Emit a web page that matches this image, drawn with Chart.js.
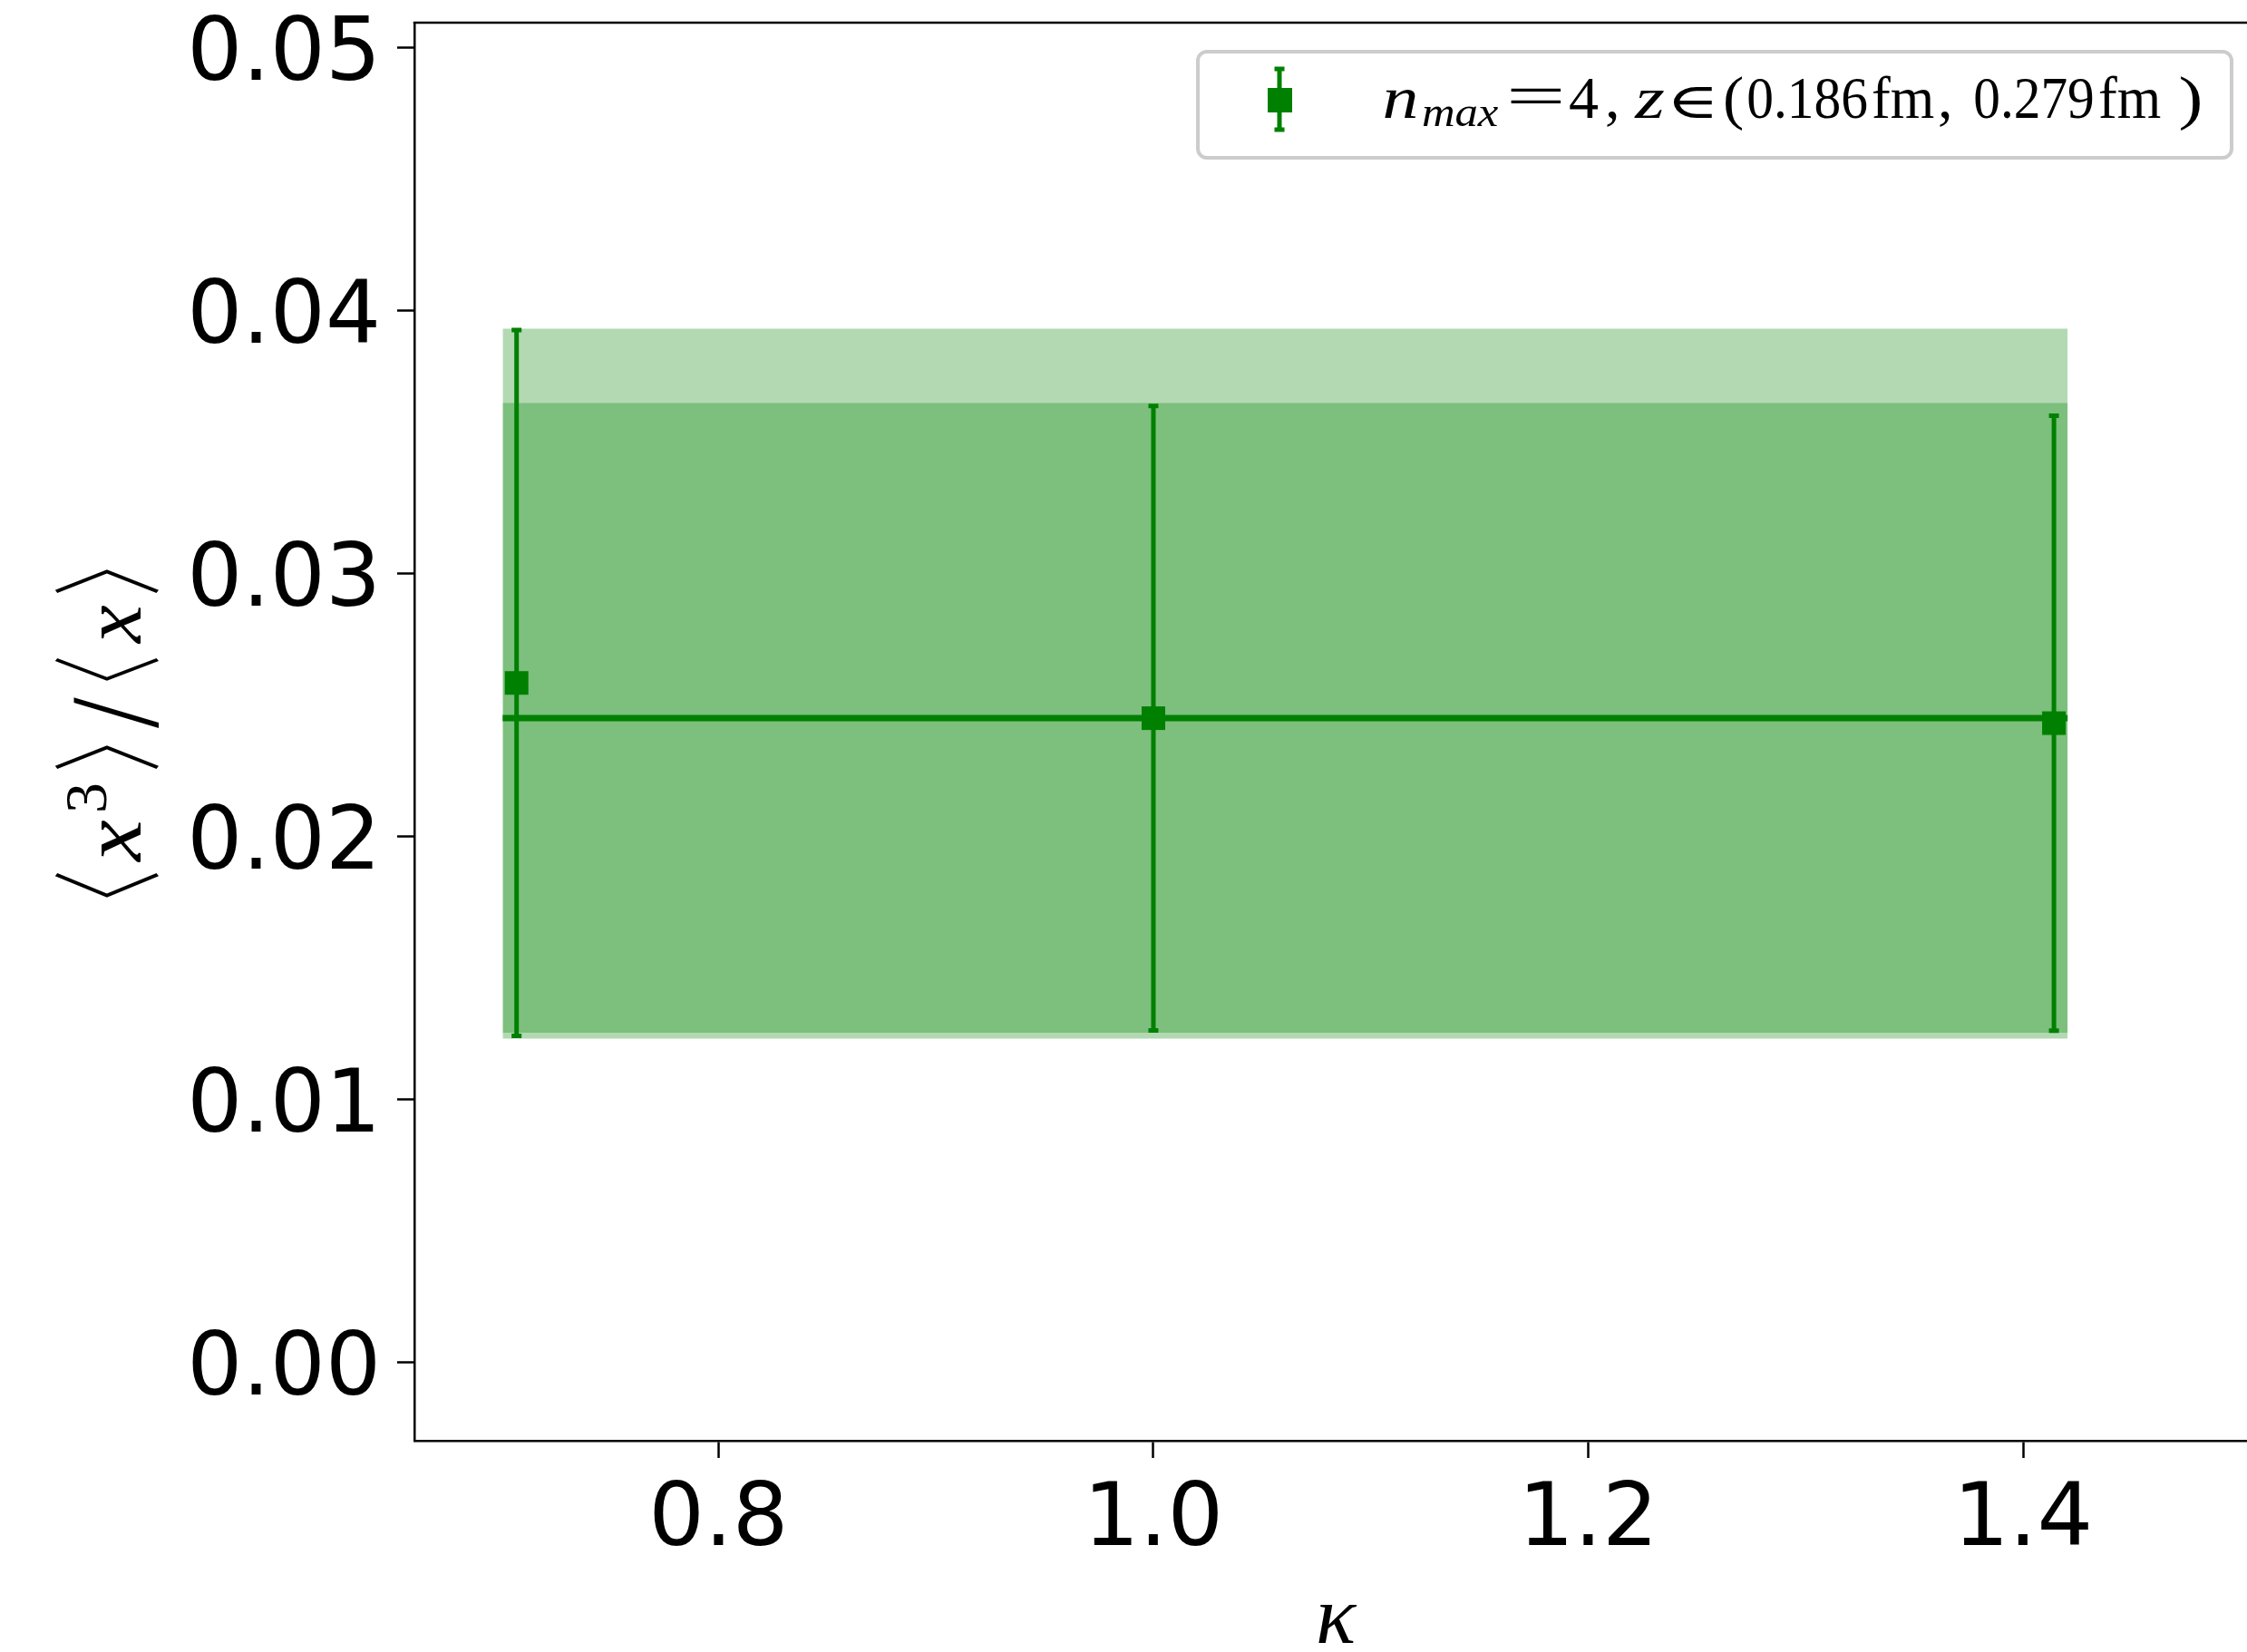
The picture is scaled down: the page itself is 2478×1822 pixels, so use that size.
<!DOCTYPE html>
<html><head><meta charset="utf-8">
<script src="https://cdn.jsdelivr.net/npm/chart.js@4.4.0/dist/chart.umd.min.js"></script>
<style>html,body{margin:0;padding:0;background:#fff;overflow:hidden}canvas{display:block}</style>
</head><body><canvas id="c" width="2478" height="1822" style="width:2478px;height:1822px"></canvas>
<script>
// ---- data ----
const kappa = [0.7071, 1.0, 1.4142];
const ratio = [0.02584, 0.02450, 0.02431];
const ratioErr = [0.01343, 0.01188, 0.01170];
const fitRange = [0.7007, 1.4205];
const fitValue = [0.02450, 0.02450];
const fitLow = [0.01253, 0.01253];
const fitHigh = [0.03649, 0.03649];
const envLow = [0.01231, 0.01231];
const envHigh = [0.03932, 0.03932];
const xTicks = [0.8, 1.0, 1.2, 1.4];
const xTickLabels = ['0.8', '1.0', '1.2', '1.4'];
const yTicks = [0.00, 0.01, 0.02, 0.03, 0.04, 0.05];
const yTickLabels = ['0.00', '0.01', '0.02', '0.03', '0.04', '0.05'];
const xLimits = [0.6601, 1.503];
const yLimits = [-0.00299, 0.05096];

const GREEN = '#008000';
const BAND = 'rgba(0,128,0,0.3)';
const pts = (xs, ys) => xs.map((x, i) => ({x, y: ys[i]}));

function fitGlyph(ctx, str, font, u0, u1, top, bottom) {
  ctx.save();
  ctx.font = font;
  ctx.textAlign = 'left';
  ctx.textBaseline = 'alphabetic';
  const m = ctx.measureText(str);
  const gl = -m.actualBoundingBoxLeft, gr = m.actualBoundingBoxRight;
  const asc = m.actualBoundingBoxAscent, desc = m.actualBoundingBoxDescent;
  const sx = (u1 - u0) / (gr - gl), sy = (bottom - top) / (asc + desc);
  ctx.translate(u0, top);
  ctx.scale(sx, sy);
  ctx.fillText(str, -gl, asc);
  ctx.restore();
}
// horizontal fit only, natural height, on a baseline
function fitWidth(ctx, str, font, x0, x1, base) {
  ctx.save();
  ctx.font = font;
  ctx.textAlign = 'left';
  ctx.textBaseline = 'alphabetic';
  const m = ctx.measureText(str);
  const gl = -m.actualBoundingBoxLeft, gr = m.actualBoundingBoxRight;
  const sx = x1 == null ? 1 : (x1 - x0) / (gr - gl);
  ctx.translate(x0, base);
  ctx.scale(sx, 1);
  ctx.fillText(str, -gl, 0);
  ctx.restore();
}

const decor = {
  id: 'decor',
  afterDatasetsDraw(chart) {
    const ctx = chart.ctx, xs = chart.scales.x, ys = chart.scales.y;
    ctx.save();
    ctx.strokeStyle = GREEN;
    ctx.lineWidth = 5;
    for (let i = 0; i < kappa.length; i++) {
      const x = xs.getPixelForValue(kappa[i]);
      const yt = ys.getPixelForValue(ratio[i] + ratioErr[i]);
      const yb = ys.getPixelForValue(ratio[i] - ratioErr[i]);
      ctx.beginPath();
      ctx.moveTo(x, yt); ctx.lineTo(x, yb);
      ctx.moveTo(x - 5.5, yt); ctx.lineTo(x + 5.5, yt);
      ctx.moveTo(x - 5.5, yb); ctx.lineTo(x + 5.5, yb);
      ctx.stroke();
    }
    ctx.restore();
  },
  afterDraw(chart) {
    const ctx = chart.ctx, a = chart.chartArea;
    ctx.save();
    // top spine
    ctx.strokeStyle = '#000'; ctx.lineWidth = 2.5;
    ctx.beginPath(); ctx.moveTo(a.left - 1.25, a.top); ctx.lineTo(a.right, a.top); ctx.stroke();

    // y axis title  <x^3>/<x>
    ctx.fillStyle = '#000';
    ctx.save();
    ctx.translate(155, 990);
    ctx.rotate(-Math.PI / 2);
    const br = "200 100px 'Noto Sans CJK JP'";
    const it = "italic 96px 'Liberation Serif'";
    const rm = "68px 'Liberation Serif'";
    fitGlyph(ctx, '\u3008', br, 0, 27, -94, 21);
    fitGlyph(ctx, 'x', it, 38, 85, -43, 0);
    fitGlyph(ctx, '3', rm, 96, 125, -82, -37);
    fitGlyph(ctx, '\u3009', br, 142, 168, -94, 21);
    fitGlyph(ctx, '/', rm, 187, 221, -72, 23);
    fitGlyph(ctx, '\u3008', br, 239, 264, -94, 21);
    fitGlyph(ctx, 'x', it, 279, 322, -43, 0);
    fitGlyph(ctx, '\u3009', br, 336, 362, -94, 21);
    ctx.restore();

    // x axis title kappa
    ctx.font = "italic 92px 'Liberation Serif', 'DejaVu Serif'";
    ctx.textAlign = 'center'; ctx.textBaseline = 'alphabetic';
    ctx.fillText('\u03BA', 1473, 1812);

    // legend
    ctx.fillStyle = 'rgba(255,255,255,0.8)';
    ctx.strokeStyle = '#cccccc'; ctx.lineWidth = 4;
    ctx.beginPath(); ctx.roundRect(1321, 57, 1140, 117, 10); ctx.fill(); ctx.stroke();
    // legend handle
    ctx.strokeStyle = GREEN; ctx.lineWidth = 5;
    ctx.beginPath();
    ctx.moveTo(1411, 76); ctx.lineTo(1411, 143);
    ctx.moveTo(1405.5, 76); ctx.lineTo(1416.5, 76);
    ctx.moveTo(1405.5, 143); ctx.lineTo(1416.5, 143);
    ctx.stroke();
    ctx.fillStyle = GREEN;
    ctx.fillRect(1398, 97, 27, 27);
    // legend text
    ctx.fillStyle = '#000';
    const RF = "66px 'Liberation Serif', 'DejaVu Serif'";
    const IF = "italic 66px 'Liberation Serif', 'DejaVu Serif'";
    const SF = "italic 46px 'Liberation Serif', 'DejaVu Serif'";
    const MF = "54px 'DejaVu Serif'";
    const base = 130;
    const pieces = [
      ['n', IF, 1527, 1562, 0], ['max', SF, 1569, 1653, 9], ['=', RF, 1666, 1721, -2], ['4', RF, 1731, 1762, 0],
      [',', RF, 1772, null, 0],
      ['z', IF, 1802, 1835, 0], ['\u2208', MF, 1845, 1889, 0], ['(', RF, 1902, 1921, 0], ['0.186', RF, 1928, 2059, 0],
      ['fm', RF, 2066, 2133, 0], [',', RF, 2139, null, 0], ['0.279', RF, 2178, 2308, 0], ['fm', RF, 2316, 2383, 0],
      [')', RF, 2405, 2427, 0]
    ];
    for (const [t, f, x0, x1, dy] of pieces) fitWidth(ctx, t, f, x0, x1, base + dy);
    ctx.restore();
  }
};

new Chart(document.getElementById('c'), {
  type: 'line',
  data: {
    datasets: [
      {label: 'n_max = 4, z \u2208 (0.186 fm, 0.279 fm)', data: pts(kappa, ratio), showLine: false,
       pointStyle: 'rect', pointRadius: 18.4, pointBackgroundColor: GREEN, pointBorderWidth: 0, borderColor: GREEN},
      {label: 'fit', data: pts(fitRange, fitValue), borderColor: GREEN, borderWidth: 7, pointRadius: 0, borderCapStyle: 'butt', fill: false},
      {label: 'fit band high', data: pts(fitRange, fitHigh), borderWidth: 0, borderColor: 'rgba(0,0,0,0)', pointRadius: 0, backgroundColor: BAND, fill: 3},
      {label: 'fit band low', data: pts(fitRange, fitLow), borderWidth: 0, borderColor: 'rgba(0,0,0,0)', pointRadius: 0, fill: false},
      {label: 'env high', data: pts(fitRange, envHigh), borderWidth: 0, borderColor: 'rgba(0,0,0,0)', pointRadius: 0, backgroundColor: BAND, fill: 5},
      {label: 'env low', data: pts(fitRange, envLow), borderWidth: 0, borderColor: 'rgba(0,0,0,0)', pointRadius: 0, fill: false}
    ]
  },
  options: {
    responsive: false, animation: false, devicePixelRatio: 1,
    layout: {padding: {top: 25, left: 0, right: 0, bottom: 0}, autoPadding: false},
    plugins: {legend: {display: false}, tooltip: {enabled: false}},
    scales: {
      x: {
        type: 'linear', min: xLimits[0], max: xLimits[1],
        afterBuildTicks: s => { s.ticks = xTicks.map(v => ({value: v})); },
        afterFit: s => { s.height = 233; s.paddingLeft = 0; s.paddingRight = 0; },
        ticks: {callback: v => xTickLabels[xTicks.indexOf(v)] ?? '', font: {family: 'DejaVu Sans', size: 97}, color: '#000', padding: 13, maxRotation: 0, autoSkip: false},
        grid: {drawOnChartArea: false, drawTicks: true, tickLength: 19, tickWidth: 2.5, tickColor: '#000'},
        border: {display: true, color: '#000', width: 2.5}
      },
      y: {
        type: 'linear', min: yLimits[0], max: yLimits[1],
        afterBuildTicks: s => { s.ticks = yTicks.map(v => ({value: v})); },
        afterFit: s => { s.width = 457; s.paddingTop = 0; s.paddingBottom = 0; },
        ticks: {callback: v => { const i = yTicks.findIndex(t => Math.abs(t - v) < 1e-9); return i < 0 ? '' : ['', yTickLabels[i]]; },
                font: {family: 'DejaVu Sans', size: 96, lineHeight: 0.22}, color: '#000', padding: 18, autoSkip: false},
        grid: {drawOnChartArea: false, drawTicks: true, tickLength: 19, tickWidth: 2.5, tickColor: '#000'},
        border: {display: true, color: '#000', width: 2.5}
      }
    }
  },
  plugins: [decor]
});
</script></body></html>
